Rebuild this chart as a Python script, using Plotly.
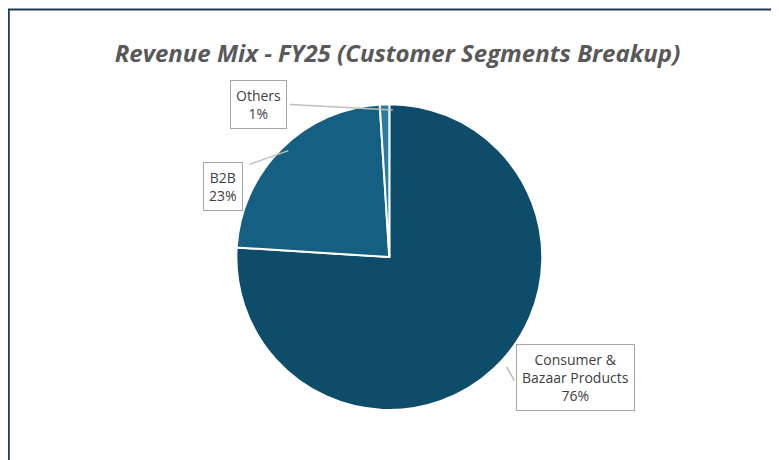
import plotly.graph_objects as go

labels = ["Consumer &<br>Bazaar Products", "B2B", "Others"]
values = [76, 23, 1]
colors = ["#0E4D6A", "#155F82", "#2A7CA3"]
pcts = ["76%", "23%", "1%"]

fig = go.Figure(go.Pie(
    labels=labels, values=values, sort=False, direction="clockwise", rotation=0,
    marker=dict(colors=colors, line=dict(color="white", width=2)),
    textinfo="none", hoverinfo="label+percent", showlegend=False,
    domain=dict(x=[0.293, 0.686], y=[0.126, 0.791]),
))

boxes = [(0.729, 0.197, labels[0] + "<br>" + pcts[0], (0.64, 0.22), (0.65, 0.19)),
         (0.276, 0.613, labels[1] + "<br>" + pcts[1], (0.36, 0.69), (0.31, 0.66)),
         (0.321, 0.79, labels[2] + "<br>" + pcts[2], (0.494, 0.778), (0.362, 0.79))]
shapes = []
for x, y, t, p1, p2 in boxes:
    shapes.append(dict(type="line", xref="paper", yref="paper", x0=p1[0], y0=p1[1], x1=p2[0], y1=p2[1],
                       line=dict(color="#BFBFBF", width=1.5)))
    fig.add_annotation(x=x, y=y, xref="paper", yref="paper", text=t, showarrow=False,
                       xanchor="center", yanchor="middle",
                       font=dict(family="Open Sans", size=14, color="#404040"),
                       bordercolor="#A6A6A6", borderwidth=1, borderpad=5, bgcolor="white", align="center")
shapes.append(dict(type="rect", xref="paper", yref="paper", x0=0.001, y0=0.002, x1=0.998, y1=0.997,
                   line=dict(color="#1F3B57", width=2)))
fig.update_layout(
    width=779, height=460, margin=dict(l=0, r=0, t=0, b=0),
    paper_bgcolor="white", shapes=shapes,
    title=dict(text="<b><i>Revenue Mix - FY25 (Customer Segments Breakup)</i></b>", x=0.5, y=0.92,
               xanchor="center", font=dict(family="Open Sans", size=24, color="#595959")),
)
fig.write_html("out.html")
